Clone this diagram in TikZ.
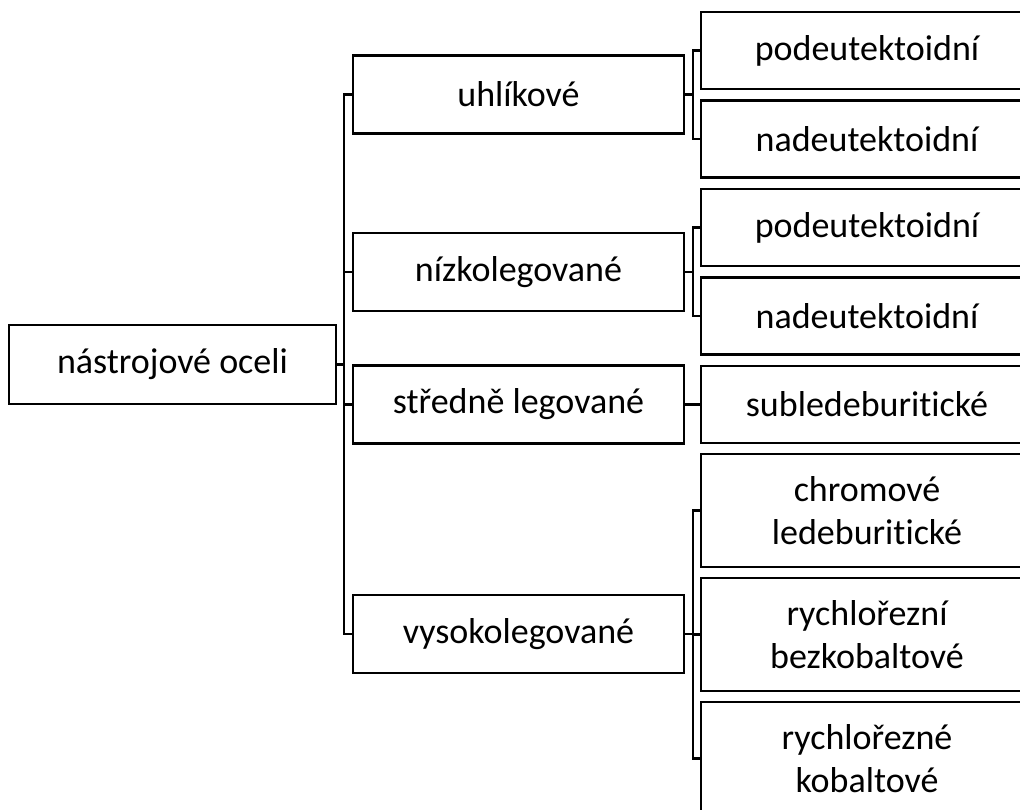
\documentclass[tikz,border=0pt]{standalone}
\usepackage{fontspec}
\setmainfont{Carlito}[RawFeature={-liga;-clig;-dlig;-calt}]
\begin{document}
\begin{tikzpicture}[x=1pt,y=-1pt,
  box/.style={draw=black, line width=2.6pt, fill=white, inner sep=0pt, align=center,
    font=\fontsize{36}{43}\selectfont},
  rootbox/.style={box, minimum width=327pt, minimum height=79pt},
  onebox/.style={box, minimum width=331pt, minimum height=78pt},
  twobox/.style={box, minimum width=332pt, minimum height=77pt},
  tallbox/.style={box, minimum width=332pt, minimum height=113pt},
  link/.style={draw=black, line width=2.6pt}]
\useasboundingbox (0,0) rectangle (1020,809);
\begin{scope}
\clip (-5,-5) rectangle (1020,815);
\node[rootbox] (root) at (172.5,364.5) {nástrojové oceli};
\node[onebox] (uhl) at (518.5,94.5) {uhlíkové};
\node[onebox] (niz) at (518.5,272) {nízkolegované};
\node[onebox] (str) at (518.5,404.5) {středně legované};
\node[onebox] (vys) at (518.5,634) {vysokolegované};
\node[twobox] (p1) at (867,50.5) {podeutektoidní};
\node[twobox] (n1) at (867,139) {nadeutektoidní};
\node[twobox] (p2) at (867,227.5) {podeutektoidní};
\node[twobox] (n2) at (867,316) {nadeutektoidní};
\node[twobox] (sub) at (867,404.5) {subledeburitické};
\node[tallbox] (chr) at (867,510.5) {chromové\\ledeburitické};
\node[tallbox] (rz1) at (867,634.5) {rychlořezní\\bezkobaltové};
\node[tallbox] (rz2) at (867,758.5) {rychlořezné\\kobaltové};
% level 1 bracket
\coordinate (s1) at (344,0);
\draw[link] (root.east) -- (root.east -| s1);
\draw[link] (uhl.west) -- (uhl.west -| s1) -- (vys.west -| s1) -- (vys.west);
\draw[link] (niz.west) -- (niz.west -| s1);
\draw[link] (str.west) -- (str.west -| s1);
% level 2 brackets
\coordinate (s2) at (693,0);
\draw[link] (uhl.east) -- (uhl.east -| s2);
\draw[link] (p1.west) -- (p1.west -| s2) -- (n1.west -| s2) -- (n1.west);
\draw[link] (niz.east) -- (niz.east -| s2);
\draw[link] (p2.west) -- (p2.west -| s2) -- (n2.west -| s2) -- (n2.west);
\draw[link] (str.east) -- (sub.west);
\draw[link] (vys.east) -- (vys.east -| s2);
\draw[link] (chr.west) -- (chr.west -| s2) -- (rz2.west -| s2) -- (rz2.west);
\draw[link] (rz1.west) -- (rz1.west -| s2);
\end{scope}
\end{tikzpicture}
\end{document}
